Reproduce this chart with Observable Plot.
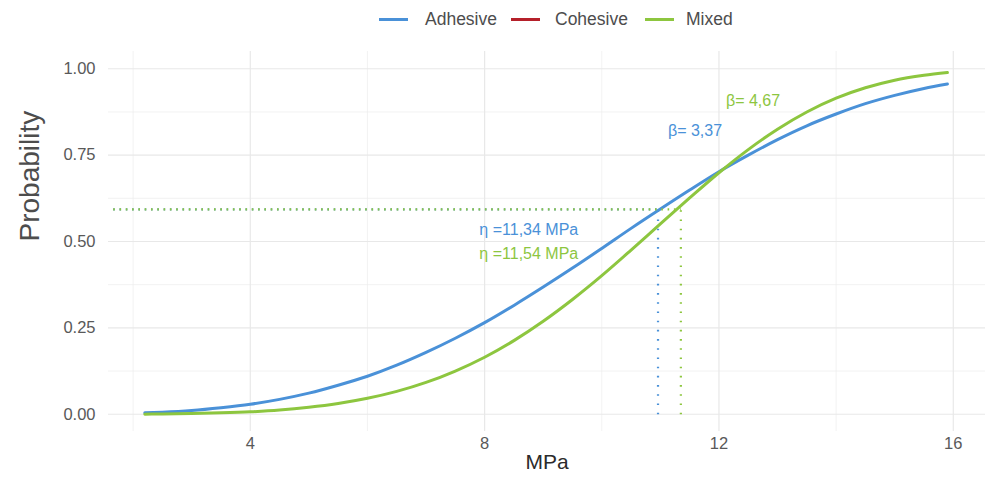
<!DOCTYPE html>
<html>
<head>
<meta charset="utf-8">
<script src="https://cdn.jsdelivr.net/npm/d3@7"></script>
<script src="https://cdn.jsdelivr.net/npm/@observablehq/plot@0.6"></script>
<style>
  html, body { margin: 0; padding: 0; background: #fff; }
  body { width: 985px; height: 483px; overflow: hidden; font-family: "Liberation Sans", Arial, sans-serif; }
  #legend { position: relative; width: 985px; height: 38px; }
  .sw { position: absolute; top: 18px; height: 3px; width: 29px; }
  .lb { position: absolute; top: 9px; font-size: 17.5px; color: #4d4d4d; line-height: 20px; }
</style>
</head>
<body>
<div id="legend"></div>
<div id="chart"></div>
<script>
// ---- data ----
const series = ["Adhesive", "Cohesive", "Mixed"];
const colors = ["#4a91d8", "#b5202a", "#8dc63f"];

const xValues = [2.2, 2.5, 3, 3.5, 4, 4.5, 5, 5.5, 6, 6.5, 7, 7.5, 8, 8.5, 9, 9.5, 10, 10.5, 11, 11.5, 12, 12.5, 13, 13.5, 14, 14.5, 15, 15.5, 15.9];
const adhesive = [0.004, 0.006, 0.011, 0.019, 0.029, 0.043, 0.061, 0.084, 0.110, 0.142, 0.179, 0.220, 0.265, 0.315, 0.368, 0.423, 0.480, 0.538, 0.594, 0.649, 0.702, 0.750, 0.795, 0.835, 0.869, 0.899, 0.923, 0.943, 0.956];
const mixed    = [0.000, 0.001, 0.002, 0.004, 0.007, 0.012, 0.020, 0.031, 0.046, 0.066, 0.092, 0.125, 0.165, 0.213, 0.269, 0.332, 0.401, 0.475, 0.551, 0.626, 0.699, 0.766, 0.825, 0.875, 0.915, 0.945, 0.967, 0.981, 0.989];

const xMajor = [4, 8, 12, 16];
const xMinor = [2, 6, 10, 14];
const yMajor = [0, 0.25, 0.5, 0.75, 1];
const yMinor = [0.125, 0.375, 0.625, 0.875];
const yTickLabels = ["0.00", "0.25", "0.50", "0.75", "1.00"];

// reference (dotted) lines
const refLevel = 0.593;
const refStart = 1.66;
const adhesiveCross = 10.96;
const mixedCross = 11.35;

// annotations
const annotations = [
  {x: 7.91, y: 0.533, text: "η =11,34 MPa", series: "Adhesive"},
  {x: 7.91, y: 0.465, text: "η =11,54 MPa", series: "Mixed"},
  {x: 11.13, y: 0.820, text: "β= 3,37", series: "Adhesive"},
  {x: 12.12, y: 0.908, text: "β= 4,67", series: "Mixed"}
];

// ---- legend ----
const legendPos = [{sw: 379, lb: 425}, {sw: 511, lb: 555}, {sw: 645, lb: 686}];
const legend = document.getElementById("legend");
series.forEach((s, i) => {
  const sw = document.createElement("div");
  sw.className = "sw";
  sw.style.left = legendPos[i].sw + "px";
  sw.style.background = colors[i];
  legend.appendChild(sw);
  const lb = document.createElement("div");
  lb.className = "lb";
  lb.style.left = legendPos[i].lb + "px";
  lb.textContent = s;
  legend.appendChild(lb);
});

// ---- tidy tables ----
const curves = [];
xValues.forEach((x, i) => {
  curves.push({x, y: adhesive[i], series: "Adhesive"});
  curves.push({x, y: mixed[i], series: "Mixed"});
});
const hRefs = [
  {x1: refStart, x2: adhesiveCross, y: refLevel, series: "Adhesive"},
  {x1: refStart, x2: mixedCross, y: refLevel, series: "Mixed"}
];
const vRefs = [
  {x: adhesiveCross, y1: 0, y2: refLevel, series: "Adhesive"},
  {x: mixedCross, y1: 0, y2: refLevel, series: "Mixed"}
];

const color = {domain: series, range: colors};

const chart = Plot.plot({
  width: 985,
  height: 445,
  marginLeft: 108,
  marginRight: 0,
  marginTop: 13,
  marginBottom: 52,
  style: {fontFamily: "'Liberation Sans', Arial, sans-serif", background: "#fff"},
  x: {domain: [1.58, 16.55]},
  y: {domain: [-0.05, 1.05]},
  color,
  marks: [
    Plot.ruleX(xMinor, {stroke: "#ededed", strokeWidth: 0.7}),
    Plot.ruleY(yMinor, {stroke: "#ededed", strokeWidth: 0.7}),
    Plot.ruleX(xMajor, {stroke: "#e8e8e8", strokeWidth: 1.2}),
    Plot.ruleY(yMajor, {stroke: "#e8e8e8", strokeWidth: 1.2}),
    Plot.axisX({ticks: xMajor, tickSize: 0, tickPadding: 6, fontSize: 16.5, color: "#595959", label: null}),
    Plot.axisY({ticks: yMajor, tickSize: 0, tickPadding: 13, fontSize: 16.5, color: "#595959", label: null,
      tickFormat: (d) => yTickLabels[yMajor.indexOf(d)]}),
    Plot.line(curves, {x: "x", y: "y", z: "series", stroke: (d) => d.series, strokeWidth: 3, curve: "monotone-x"}),
    Plot.link(hRefs, {x1: "x1", x2: "x2", y1: "y", y2: "y", stroke: (d) => d.series, strokeWidth: 2.2, strokeDasharray: "1.6,4.7"}),
    Plot.link(vRefs, {x1: "x", x2: "x", y1: "y1", y2: "y2", stroke: (d) => d.series, strokeWidth: 2.2, strokeDasharray: "1.6,7.6"}),
    Plot.text(annotations, {x: "x", y: "y", text: "text", fill: (d) => d.series, textAnchor: "start", fontSize: 16}),
    Plot.text(["Probability"], {frameAnchor: "left", dx: -78, rotate: -90, fontSize: 28, fill: "#4d4d4d"}),
    Plot.text(["MPa"], {frameAnchor: "bottom", dy: 37, fontSize: 21, fill: "#2b2b2b"})
  ]
});
document.getElementById("chart").appendChild(chart);
</script>
</body>
</html>
